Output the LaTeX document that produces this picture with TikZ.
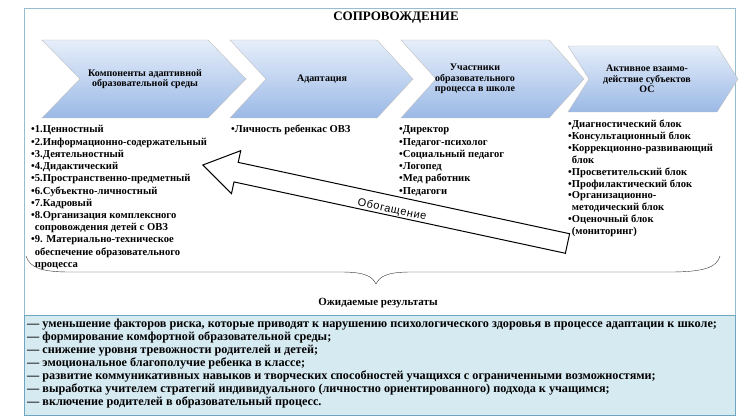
\documentclass[tikz,border=0pt]{standalone}
\usepackage{fontspec}
\setmainfont{Liberation Serif}
\newfontfamily\sansfont[LetterSpace=6]{Liberation Sans}
\definecolor{chevtop}{RGB}{230,238,250}
\definecolor{chevbot}{RGB}{155,185,230}
\definecolor{framec}{RGB}{150,190,208}
\definecolor{resfill}{RGB}{214,234,242}
\definecolor{resline}{RGB}{110,165,192}
\tikzset{
  chev/.style={draw=gray!50, top color=chevtop, bottom color=chevbot},
  head/.style={font=\fontsize{10}{10.5}\selectfont\bfseries, align=center, inner sep=0},
  item/.style={font=\fontsize{10.6}{12}\selectfont\bfseries, anchor=base west, inner sep=0},
  res/.style={font=\fontsize{12.2}{13}\selectfont\bfseries, anchor=base west, inner sep=0},
}
\begin{document}
\begin{tikzpicture}[x=1pt,y=-1pt]
  \useasboundingbox (0,0) rectangle (750,417);
  %% frame
  \draw[framec] (24,8) rectangle (735,415);
  \filldraw[fill=resfill,draw=resline] (24,315) rectangle (735,415);
  \node[font=\fontsize{13}{15}\selectfont\bfseries] (title) at (396,18) {СОПРОВОЖДЕНИЕ};
  %% chevrons
  \foreach \xl/\xr/\yt/\yb/\d/\xt/\t [count=\i] in {
      42/208/40/118/38/145/{Компоненты адаптивной\\образовательной среды},
      230/377/40/118/36/322/{Адаптация},
      401/549/40/118/35/475/{Участники\\образовательного\\процесса в школе},
      568/717/46/112/21/647/{Активное взаимо-\\действие субъектов\\ОС}}
  {
    \path[chev] (\xl,\yt) -- (\xr,\yt) -- ({\xr+\d},{(\yt+\yb)/2}) -- (\xr,\yb)
      -- (\xl,\yb) -- ({\xl+\d},{(\yt+\yb)/2}) -- cycle;
    \node[head] (chev\i) at (\xt,{(\yt+\yb)/2}) {\t};
  }
  %% lists
  \foreach \t [count=\i] in {•1.Ценностный, •2.Информационно-содержательный,
      •3.Деятельностный, •4.Дидактический, •5.Пространственно-предметный,
      •6.Субъектно-личностный, •7.Кадровый, •8.Организация комплексного,
      \hphantom{•}сопровождения детей с ОВЗ, •9. Материально-техническое,
      \hphantom{•}обеспечение образовательного, \hphantom{•}процесса}
    \node[item] (comp\i) at (31,{133+12.2*(\i-1)}) {\t};
  \node[item] (child) at (231,133) {•Личность ребенкас ОВЗ};
  \foreach \t [count=\i] in {•Директор, •Педагог-психолог, •Социальный педагог,
      •Логопед, •Мед работник, •Педагоги}
    \node[item] (staff\i) at (399,{133+12.2*(\i-1)}) {\t};
  \foreach \t [count=\i] in {•Диагностический блок, •Консультационный блок,
      •Коррекционно-развивающий, \hphantom{•}блок, •Просветительский блок,
      •Профилактический блок, •Организационно-, \hphantom{•}методический блок,
      •Оценочный блок, \hphantom{•}(мониторинг)}
    \node[item] (block\i) at (568,{128+11.8*(\i-1)}) {\t};
  %% arrow
  \begin{scope}[shift={(567.5,243.5)},rotate=167.85]
    \def\al{373} \def\hl{34} \def\hw{22} \def\sw{10}
    \filldraw[fill=white,line width=1pt] (0,-\sw) -- ({\al-\hl},-\sw) -- ({\al-\hl},-\hw)
      -- (\al,0) -- ({\al-\hl},\hw) -- ({\al-\hl},\sw) -- (0,\sw) -- cycle;
  \end{scope}
  \node[font=\sansfont\fontsize{11}{12}\selectfont, rotate=-12.15] (enrich) at (392,210) {Обогащение};
  %% brace
  \draw[gray!40!black] (26,256) .. controls (30,268) and (42,272) .. (70,272) -- (340,272)
    .. controls (365,272) and (372,276) .. (376,284)
    .. controls (380,276) and (387,272) .. (412,272) -- (670,272)
    .. controls (705,272) and (717,267) .. (720,256);
  \node[font=\fontsize{11}{13}\selectfont\bfseries] (expect) at (378,303) {Ожидаемые результаты};
  %% results
  \foreach \t [count=\i] in {
      {— уменьшение факторов риска, которые приводят к нарушению психологического здоровья в процессе адаптации к школе;},
      {— формирование комфортной образовательной среды;},
      {— снижение уровня тревожности родителей и детей;},
      {— эмоциональное благополучие ребенка в классе;},
      {— развитие коммуникативных навыков и творческих способностей учащихся с ограниченными возможностями;},
      {— выработка учителем стратегий индивидуального (личностно ориентированного) подхода к учащимся;},
      {— включение родителей в образовательный процесс.}}
    \node[res] (res\i) at (27,{327+13.1*(\i-1)}) {\t};
\end{tikzpicture}
\end{document}
